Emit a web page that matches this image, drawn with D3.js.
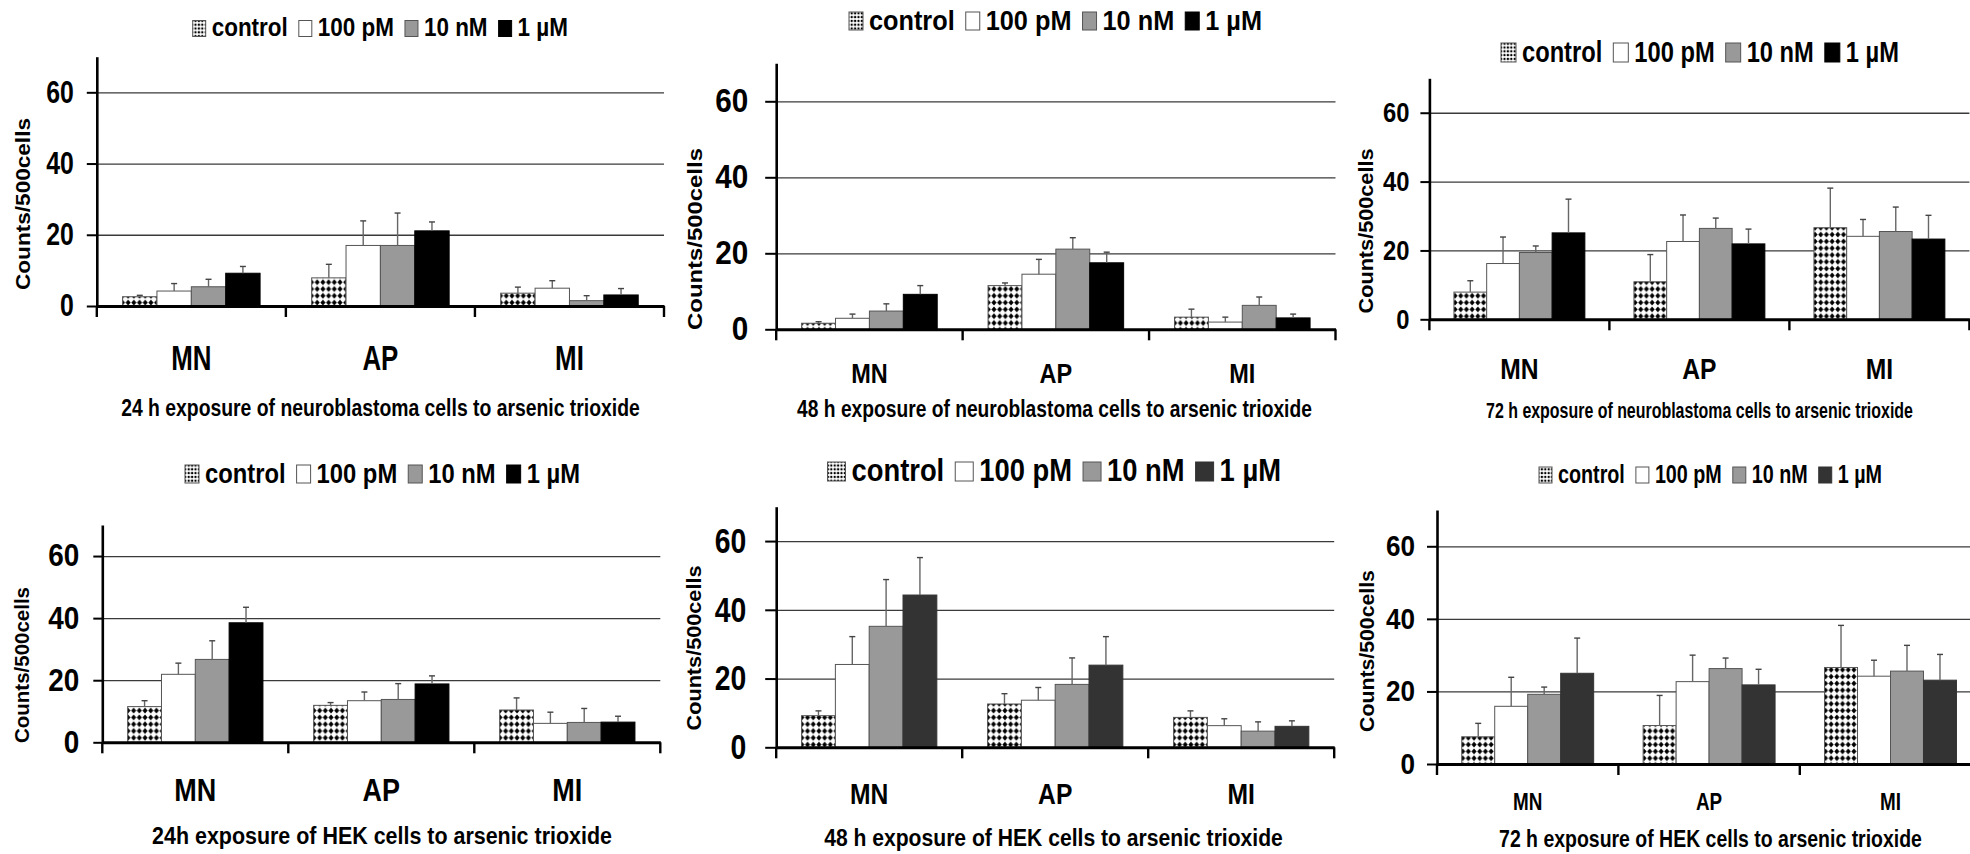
<!DOCTYPE html>
<html>
<head>
<meta charset="utf-8">
<script src="https://cdn.jsdelivr.net/npm/d3@7"></script>
<style>
  html, body { margin: 0; padding: 0; background: #fff; }
  svg { display: block; }
  text { font-family: "Liberation Sans", Arial, sans-serif; font-weight: bold; fill: #000; }
</style>
</head>
<body>
<svg id="chart" width="1970" height="854"></svg>
<script>
// Categories, treatments and axis ticks
const categories = ["MN", "AP", "MI"];
const treatments = ["control", "100 pM", "10 nM", "1 µM"];
const yTickValues = [0, 20, 40, 60];
const yMax = 70;

// Means and SD (counts per 500 cells), rows = MN, AP, MI; columns = treatments
const nb24Mean = [[2.6, 4.2, 5.4, 9.2], [7.9, 17.0, 17.0, 21.1], [3.6, 5.0, 1.5, 3.1]];
const nb24Sd   = [[0.4, 2.1, 2.1, 1.9], [3.8, 6.9, 9.1, 2.5], [1.7, 2.1, 1.4, 1.8]];

const nb48Mean = [[1.6, 2.9, 4.8, 9.2], [11.5, 14.5, 21.1, 17.5], [3.2, 1.9, 6.3, 3.0]];
const nb48Sd   = [[0.4, 1.1, 1.9, 2.3], [0.7, 3.9, 3.0, 2.8], [2.1, 1.3, 2.2, 1.0]];

const nb72Mean = [[7.9, 16.2, 19.4, 25.1], [10.9, 22.6, 26.4, 21.9], [26.6, 24.1, 25.5, 23.3]];
const nb72Sd   = [[3.3, 7.7, 1.9, 9.8], [7.9, 7.7, 3.0, 4.3], [11.5, 4.9, 7.1, 6.9]];

const hek24Mean = [[11.5, 21.9, 26.7, 38.5], [11.9, 13.4, 13.8, 18.8], [10.4, 6.1, 6.4, 6.5]];
const hek24Sd   = [[1.9, 3.6, 6.0, 5.0], [0.9, 2.8, 5.1, 2.6], [3.9, 3.6, 4.5, 1.9]];

const hek48Mean = [[9.2, 24.1, 35.2, 44.3], [12.6, 13.7, 18.3, 23.9], [8.7, 6.3, 4.7, 6.1]];
const hek48Sd   = [[1.4, 8.1, 13.6, 10.9], [3.0, 3.7, 7.7, 8.3], [1.9, 2.0, 2.7, 1.6]];

const hek72Mean = [[7.5, 15.9, 19.2, 25.0], [10.6, 22.7, 26.3, 21.8], [26.6, 24.2, 25.6, 23.1]];
const hek72Sd   = [[3.7, 8.0, 2.0, 9.7], [8.3, 7.3, 2.9, 4.3], [11.6, 4.4, 7.1, 7.1]];

const subtitles = [
  "24 h exposure of neuroblastoma cells to arsenic trioxide",
  "48 h exposure of neuroblastoma cells to arsenic trioxide",
  "72 h exposure of neuroblastoma cells to arsenic trioxide",
  "24h exposure of HEK cells to arsenic trioxide",
  "48 h exposure of HEK cells to arsenic trioxide",
  "72 h exposure of HEK cells to arsenic trioxide"
];
const yTitle = "Counts/500cells";

// Panel geometry and typography
const layout = [
  { left: 96.8, right: 664, top: 56.7, bottom: 306, dark: "#000",
    tick: { fs: 31, sx: 0.8, len: 10, pad: 13 },
    cat: { fs: 35, sx: 0.74, base: 370 },
    leg: { x0: 192.7, x1: 568, base: 36.5, fs: 26, sw: 13, sh: 16 },
    sub: { cx: 380.5, base: 416, fs: 23, w: 519 },
    yt: { cx: 22.5, cy: 204, w: 172 } },
  { left: 776.2, right: 1335.5, top: 63.3, bottom: 329.3, dark: "#000",
    tick: { fs: 33, sx: 0.9, len: 11, pad: 17 },
    cat: { fs: 28, sx: 0.84, base: 383 },
    leg: { x0: 849, x1: 1262, base: 30, fs: 28, sw: 14, sh: 18 },
    sub: { cx: 1054.5, base: 417, fs: 23, w: 515 },
    yt: { cx: 694.5, cy: 239, w: 182 } },
  { left: 1429.4, right: 1969.4, top: 78.3, bottom: 319.3, dark: "#000",
    tick: { fs: 28, sx: 0.85, len: 9, pad: 11 },
    cat: { fs: 29, sx: 0.85, base: 379 },
    leg: { x0: 1501, x1: 1899, base: 62, fs: 29, sw: 15, sh: 19 },
    sub: { cx: 1699.5, base: 418, fs: 22, w: 427 },
    yt: { cx: 1365.5, cy: 231, w: 165 } },
  { left: 102.3, right: 660.3, top: 525, bottom: 742.3, dark: "#000",
    tick: { fs: 31, sx: 0.9, len: 9, pad: 14 },
    cat: { fs: 31, sx: 0.87, base: 801 },
    leg: { x0: 185, x1: 580, base: 483, fs: 28, sw: 14, sh: 18 },
    sub: { cx: 382, base: 844, fs: 24, w: 460 },
    yt: { cx: 22, cy: 665, w: 156 } },
  { left: 776.2, right: 1334.2, top: 506.7, bottom: 747.3, dark: "#333",
    tick: { fs: 35, sx: 0.81, len: 11, pad: 19 },
    cat: { fs: 29, sx: 0.85, base: 804 },
    leg: { x0: 827.5, x1: 1281, base: 481, fs: 32, sw: 18, sh: 19 },
    sub: { cx: 1053.5, base: 846, fs: 24, w: 459 },
    yt: { cx: 694, cy: 648, w: 165 } },
  { left: 1437, right: 1981.2, top: 510, bottom: 764, dark: "#333",
    tick: { fs: 29, sx: 0.9, len: 10, pad: 12 },
    cat: { fs: 23, sx: 0.82, base: 810 },
    leg: { x0: 1539, x1: 1882, base: 483, fs: 26, sw: 13, sh: 16 },
    sub: { cx: 1710.5, base: 847, fs: 24, w: 423 },
    yt: { cx: 1366.5, cy: 651, w: 162 } }
];

const panels = [
  { mean: nb24Mean, sd: nb24Sd },
  { mean: nb48Mean, sd: nb48Sd },
  { mean: nb72Mean, sd: nb72Sd },
  { mean: hek24Mean, sd: hek24Sd },
  { mean: hek48Mean, sd: hek48Sd },
  { mean: hek72Mean, sd: hek72Sd }
];

const svg = d3.select("#chart");
svg.append("rect").attr("width", 1970).attr("height", 854).attr("fill", "#fff");

// Diamond-dot fills for the control series
const defs = svg.append("defs");
const pat = defs.append("pattern").attr("id", "dots")
  .attr("patternUnits", "userSpaceOnUse").attr("width", 5.7).attr("height", 6.8);
pat.append("rect").attr("width", 5.7).attr("height", 6.8).attr("fill", "#fff");
pat.append("path").attr("d", "M2.85,0.5 L5.4,3.4 L2.85,6.3 L0.3,3.4 Z").attr("fill", "#000");

const patS = defs.append("pattern").attr("id", "dotsSmall")
  .attr("patternUnits", "userSpaceOnUse").attr("width", 3.4).attr("height", 3.8);
patS.append("rect").attr("width", 3.4).attr("height", 3.8).attr("fill", "#fff");
patS.append("circle").attr("cx", 1.7).attr("cy", 1.9).attr("r", 1.2).attr("fill", "#000");

// Condense a text horizontally about its anchor x
function squeeze(sel, sx) {
  sel.each(function () {
    const ax = +d3.select(this).attr("x") || 0;
    d3.select(this).attr("transform", `translate(${ax},0) scale(${sx},1) translate(${-ax},0)`);
  });
}
// Condense a text so that it spans a given width
function fitWidth(sel, w) {
  sel.each(function () {
    const n = this.getComputedTextLength();
    squeeze(d3.select(this), w / n);
  });
}

function fills(dark) {
  return ["url(#dots)", "#fff", "#999", dark];
}

panels.forEach((p, pi) => {
  const L = layout[pi];
  const g = svg.append("g");
  const fill = fills(L.dark);

  const y = d3.scaleLinear().domain([0, yMax]).range([L.bottom, L.top]);
  const x0 = d3.scaleBand().domain(categories).range([L.left, L.right]).paddingInner(0).paddingOuter(0);
  const x1 = d3.scaleBand().domain(treatments).range([0, x0.bandwidth()]).paddingInner(0).paddingOuter(0.75);

  // horizontal gridlines
  const grid = g.append("g").attr("transform", `translate(${L.left},0)`)
    .call(d3.axisLeft(y).tickValues(yTickValues.filter(v => v > 0))
      .tickSize(-(Math.min(L.right, 1970) - L.left)).tickFormat(""));
  grid.select(".domain").remove();
  grid.selectAll("line").attr("stroke", "#3a3a3a").attr("stroke-width", 1.3);

  // bars
  const cat = g.selectAll(".cat").data(categories).join("g")
    .attr("transform", c => `translate(${x0(c)},0)`);
  cat.each(function (c, ci) {
    const cg = d3.select(this);
    const rows = treatments.map((t, ti) => ({ t, ti, m: p.mean[ci][ti], s: p.sd[ci][ti] }));
    cg.selectAll("rect").data(rows).join("rect")
      .attr("x", d => x1(d.t))
      .attr("y", d => y(d.m))
      .attr("width", x1.bandwidth())
      .attr("height", d => y(0) - y(d.m))
      .attr("fill", d => fill[d.ti])
      .attr("stroke", d => d.ti === 3 ? L.dark : "#555")
      .attr("stroke-width", 1);
    // upward error bars
    cg.selectAll(".err").data(rows).join("line").attr("class", "err")
      .attr("x1", d => x1(d.t) + x1.bandwidth() / 2)
      .attr("x2", d => x1(d.t) + x1.bandwidth() / 2)
      .attr("y1", d => y(d.m))
      .attr("y2", d => y(d.m + d.s))
      .attr("stroke", "#666").attr("stroke-width", 1.4);
    cg.selectAll(".cap").data(rows).join("line").attr("class", "cap")
      .attr("x1", d => x1(d.t) + x1.bandwidth() / 2 - 3)
      .attr("x2", d => x1(d.t) + x1.bandwidth() / 2 + 3)
      .attr("y1", d => y(d.m + d.s))
      .attr("y2", d => y(d.m + d.s))
      .attr("stroke", "#444").attr("stroke-width", 1.4);
  });

  // y axis
  const ya = g.append("g").attr("transform", `translate(${L.left},0)`)
    .call(d3.axisLeft(y).tickValues(yTickValues).tickSize(L.tick.len).tickSizeOuter(0).tickPadding(L.tick.pad));
  ya.select(".domain").attr("stroke", "#000").attr("stroke-width", 2.6);
  ya.selectAll(".tick line").attr("stroke", "#000").attr("stroke-width", 2);
  ya.selectAll(".tick text").attr("font-size", L.tick.fs).attr("font-family", null).call(squeeze, L.tick.sx);

  // x axis baseline with category boundary ticks
  const xa = g.append("g").attr("transform", `translate(0,${L.bottom})`)
    .call(d3.axisBottom(x0).tickSize(0).tickSizeOuter(0));
  xa.select(".domain").attr("stroke", "#000").attr("stroke-width", 3);
  xa.selectAll(".tick text")
    .attr("y", L.cat.base - L.bottom).attr("dy", 0)
    .attr("font-size", L.cat.fs).attr("font-family", null)
    .call(squeeze, L.cat.sx);
  const bounds = categories.map(c => x0(c)).concat([x0.range()[1]]);
  xa.selectAll(".bound").data(bounds).join("line").attr("class", "bound")
    .attr("x1", d => d).attr("x2", d => d).attr("y1", 0).attr("y2", 11)
    .attr("stroke", "#000").attr("stroke-width", 2.4);

  // y title
  const ytg = g.append("g")
    .attr("transform", `translate(${L.yt.cx},${L.yt.cy}) rotate(-90)`);
  ytg.append("text")
    .attr("x", 0).attr("text-anchor", "middle").attr("dy", "0.36em")
    .attr("font-size", 20)
    .text(yTitle)
    .call(fitWidth, L.yt.w);

  // subtitle
  g.append("text")
    .attr("x", L.sub.cx).attr("y", L.sub.base)
    .attr("text-anchor", "middle")
    .attr("font-size", L.sub.fs)
    .text(subtitles[pi])
    .call(fitWidth, L.sub.w);

  // legend
  const lg = g.append("g");
  const gap1 = 6, gap2 = 11;
  const labels = lg.selectAll("text").data(treatments).join("text")
    .attr("font-size", L.leg.fs).attr("y", L.leg.base).text(d => d);
  const natural = [];
  labels.each(function () { natural.push(this.getComputedTextLength()); });
  const fixed = 4 * L.leg.sw + 4 * gap1 + 3 * gap2;
  const sx = (L.leg.x1 - L.leg.x0 - fixed) / d3.sum(natural);
  let cx = L.leg.x0;
  const swX = [], txX = [];
  natural.forEach((w, i) => {
    swX.push(cx);
    cx += L.leg.sw + gap1;
    txX.push(cx);
    cx += w * sx + gap2;
  });
  labels.attr("x", (d, i) => txX[i]).call(squeeze, sx);
  const legFill = ["url(#dotsSmall)", "#fff", "#999", L.dark];
  lg.selectAll("rect").data(treatments).join("rect")
    .attr("x", (d, i) => swX[i]).attr("y", L.leg.base - L.leg.sh)
    .attr("width", L.leg.sw).attr("height", L.leg.sh)
    .attr("fill", (d, i) => legFill[i])
    .attr("stroke", (d, i) => i === 3 ? L.dark : "#555").attr("stroke-width", 1);
});
</script>
</body>
</html>
